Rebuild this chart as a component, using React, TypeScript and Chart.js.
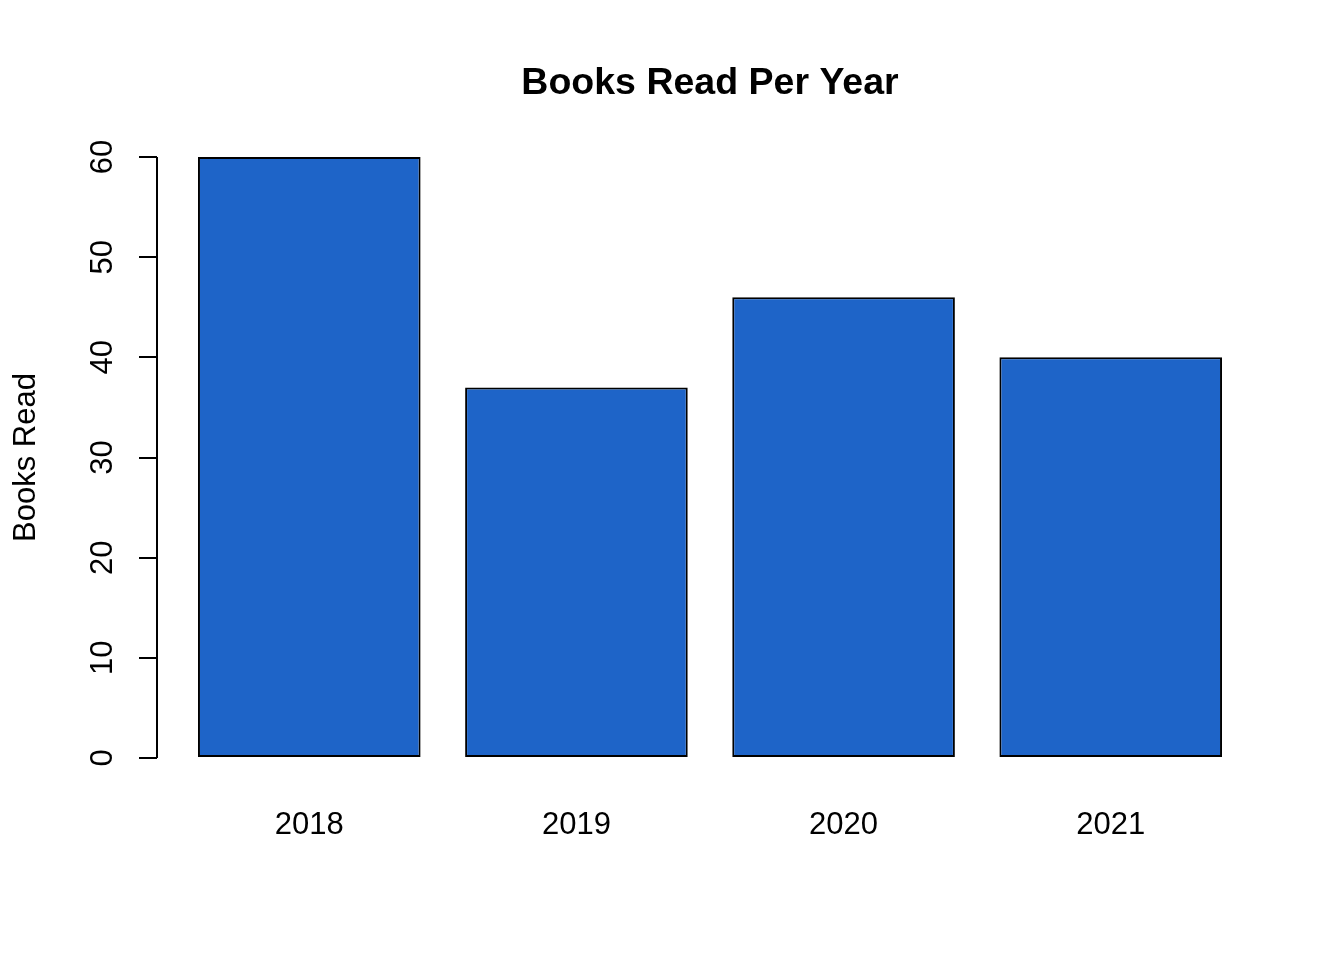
import React, { useEffect, useRef } from "react";
import { Chart, registerables } from "chart.js";

Chart.register(...registerables);

const TITLE = "Books Read Per Year";
const Y_TITLE = "Books Read";
const categories = ["2018", "2019", "2020", "2021"];
const booksRead = [60, 37, 46, 40];
const yTicks = [0, 10, 20, 30, 40, 50, 60];

const BAR_COLOR = "#1E64C8";
const FONT = "'Liberation Sans', Arial, sans-serif";

// R barplot geometry: width 1, space 0.2
const SPACE = 0.2;
const centers = categories.map((_, i) => SPACE + 0.5 + i * (1 + SPACE));
const xLo = SPACE;
const xHi = categories.length * (1 + SPACE);
const xExt = (xHi - xLo) * 0.04;
const yLo = Math.min(0, ...yTicks);
const yHi = Math.max(...yTicks);
const yExt = (yHi - yLo) * 0.04;

const rAxisPlugin = {
  id: "rAxis",
  afterDraw(chart: any) {
    const ctx = chart.ctx;
    const { left, top, right, bottom } = chart.chartArea;
    const ys = chart.scales.y;
    const xs = chart.scales.x;
    ctx.save();
    ctx.strokeStyle = "#000";
    ctx.lineWidth = 2;
    ctx.beginPath();
    ctx.moveTo(left, ys.getPixelForValue(yTicks[0]));
    ctx.lineTo(left, ys.getPixelForValue(yTicks[yTicks.length - 1]));
    ctx.stroke();

    ctx.fillStyle = "#000";
    ctx.font = `31px ${FONT}`;
    ctx.textAlign = "center";
    ctx.textBaseline = "alphabetic";
    yTicks.forEach((v) => {
      const py = ys.getPixelForValue(v);
      ctx.save();
      ctx.translate(left - 45, py);
      ctx.rotate(-Math.PI / 2);
      ctx.fillText(String(v), 0, 0);
      ctx.restore();
    });
    categories.forEach((c, i) => {
      ctx.fillText(c, xs.getPixelForValue(centers[i]), bottom + 52);
    });
    ctx.save();
    ctx.translate(left - 122, (top + bottom) / 2);
    ctx.rotate(-Math.PI / 2);
    ctx.fillText(Y_TITLE, 0, 0);
    ctx.restore();
    ctx.font = `bold 37.5px ${FONT}`;
    ctx.fillText(TITLE, (left + right) / 2, top - 39);
    ctx.restore();
  },
};

export default function App() {
  const ref = useRef<HTMLCanvasElement | null>(null);
  useEffect(() => {
    if (!ref.current) return;
    const chart = new Chart(ref.current, {
      type: "bar",
      data: {
        datasets: [
          {
            data: booksRead.map((v, i) => ({ x: centers[i], y: v })),
            backgroundColor: BAR_COLOR,
            borderColor: "#000",
            borderWidth: 2,
            borderSkipped: false,
            categoryPercentage: 1 / (1 + SPACE),
            barPercentage: 1,
          },
        ],
      },
      options: {
        responsive: false,
        animation: false,
        layout: { padding: { left: 0, top: 133, right: 81, bottom: 0 } },
        plugins: {
          legend: { display: false },
          tooltip: { enabled: false },
          title: { display: false },
        },
        scales: {
          x: {
            type: "linear",
            offset: false,
            min: xLo - xExt,
            max: xHi + xExt,
            afterBuildTicks: (s: any) => {
              s.ticks = centers.map((v) => ({ value: v }));
            },
            grid: { display: false },
            border: { display: false },
            ticks: { display: false },
            afterFit: (s: any) => {
              s.height = 178;
            },
          },
          y: {
            type: "linear",
            min: yLo - yExt,
            max: yHi + yExt,
            afterBuildTicks: (s: any) => {
              s.ticks = yTicks.map((v) => ({ value: v }));
            },
            afterFit: (s: any) => {
              s.width = 157;
            },
            grid: {
              drawOnChartArea: false,
              drawTicks: true,
              tickLength: 18,
              color: "#000",
              lineWidth: 2,
            },
            border: { display: false },
            ticks: { display: false },
          },
        },
      },
      plugins: [rAxisPlugin],
    });
    return () => chart.destroy();
  }, []);
  return (
    <div style={{ position: "absolute", left: 0, top: 0, width: 1344, height: 960, background: "#fff" }}>
      <canvas ref={ref} width={1344} height={960} style={{ display: "block" }} />
    </div>
  );
}
